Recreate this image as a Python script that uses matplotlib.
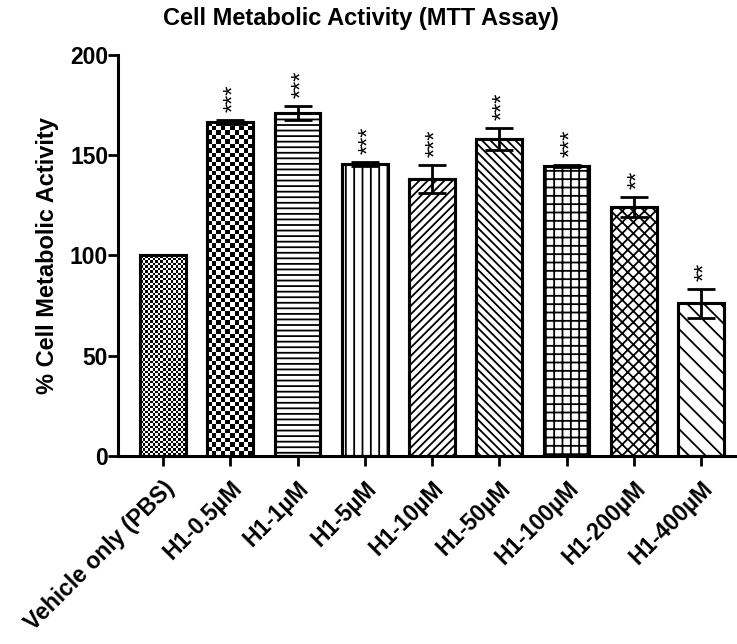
import numpy as np
import matplotlib.pyplot as plt

plt.rcParams['font.family'] = ['Liberation Sans', 'DejaVu Sans']
plt.rcParams['font.weight'] = 'bold'
plt.rcParams['hatch.linewidth'] = 1.3

# datos
labels = ["Vehicle only (PBS)", "H1-0.5\u00b5M", "H1-1\u00b5M", "H1-5\u00b5M", "H1-10\u00b5M",
          "H1-50\u00b5M", "H1-100\u00b5M", "H1-200\u00b5M", "H1-400\u00b5M"]
valores = [100, 166.5, 171, 145.5, 138, 158, 144.5, 124, 76]
errores = [0, 1, 3.5, 0.8, 7, 5.5, 0.5, 5, 7]
estrellas = ["", "***", "***", "***", "***", "***", "***", "**", "**"]
hatches = ["", "", "---", "||", "////", "\\\\\\\\", "++", "xxx", "\\\\"]
cuadros = [2.5, 4.5, 0, 0, 0, 0, 0, 0, 0]  # tamaño de cuadro en px (0 = nada)

fig = plt.figure(figsize=(7.37, 6.44), dpi=100)
ax = fig.add_axes([0.160, 0.292, 0.837, 0.623])

x = np.arange(len(labels))
w = 0.68
bars = ax.bar(x, valores, w, color="white", edgecolor="black", linewidth=2.2,
              hatch=hatches, zorder=2)

# tableros de ajedrez
for i in range(len(labels)):
    c = cuadros[i]
    if c == 0:
        continue
    nf = max(int(valores[i] * 2.0 / c), 1)
    nc = max(int(46 / c), 1)
    tab = (np.indices((nf, nc)).sum(axis=0) % 2).astype(float)
    im = ax.imshow(tab, extent=(x[i] - w / 2, x[i] + w / 2, 0, valores[i]),
                   aspect="auto", cmap="gray", interpolation="nearest", zorder=2.5)
    im.set_clip_path(bars[i])
ax.bar(x, valores, w, fill=False, edgecolor="black", linewidth=2.2, zorder=3)

ax.errorbar(x[1:], valores[1:], yerr=errores[1:], fmt="none", ecolor="black",
            elinewidth=2, capsize=10, capthick=2, zorder=4)

for i in range(len(labels)):
    if estrellas[i]:
        ax.annotate(estrellas[i], (x[i], valores[i] + errores[i]), xytext=(3, 6),
                    textcoords="offset points", rotation=90, ha="center", va="bottom",
                    fontsize=17, fontweight="normal")

ax.set_xlim(-0.67, 8.5)
ax.set_ylim(0, 200)
ax.set_yticks([0, 50, 100, 150, 200])
ax.set_xticks(x)
ax.set_xticklabels(labels, rotation=45, ha="right", rotation_mode="anchor",
                   fontsize=16.5, fontweight="bold")
ax.tick_params(axis="y", labelsize=16.5, width=2, length=7, pad=0)
ax.tick_params(axis="x", width=2, length=7, pad=8)
for lab in ax.get_yticklabels():
    lab.set_fontweight("bold")
for s in ["top", "right"]:
    ax.spines[s].set_visible(False)
for s in ["left", "bottom"]:
    ax.spines[s].set_linewidth(2.2)

ax.set_ylabel("% Cell Metabolic Activity", fontsize=17, fontweight="bold", labelpad=8)
fig.text(0.49, 0.972, "Cell Metabolic Activity (MTT Assay)", ha="center", va="center",
         fontsize=17, fontweight="bold")

plt.savefig("out.png", dpi=100)
